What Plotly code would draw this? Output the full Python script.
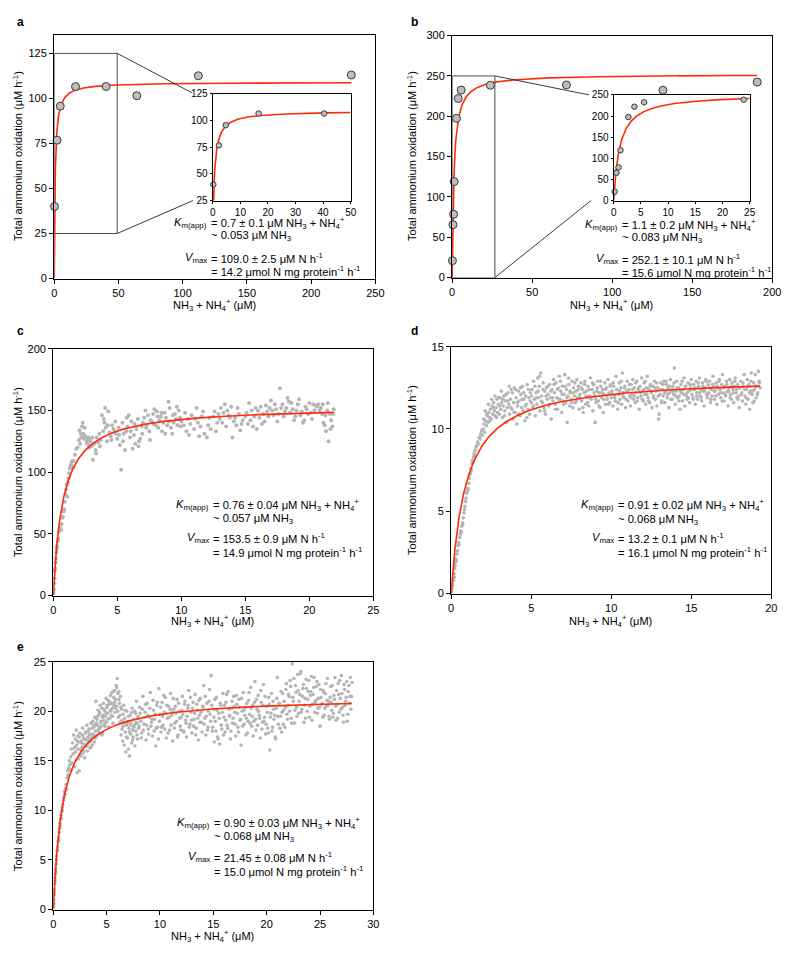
import numpy as np
import plotly.graph_objects as go

W, H = 800, 960
FONT = "Liberation Sans, Arial, Helvetica, sans-serif"

# ---------------- data ----------------
# panel a (discrete assays)
a_x = [0.2, 2.2, 4.7, 16.6, 40.4, 64.3, 112.2, 231.3]
a_y = [40.0, 76.8, 95.7, 106.6, 106.6, 101.5, 112.6, 113.0]
a_vmax, a_km = 109.0, 0.7

# panel b (discrete assays)
b_x = [0.18, 0.5, 0.9, 1.25, 2.7, 3.8, 5.6, 23.9, 71.4, 131.7, 190.6]
b_y = [21.0, 65.5, 78.5, 119.0, 197.5, 222.0, 232.5, 238.5, 238.8, 232.3, 242.4]
b_vmax, b_km = 252.1, 1.1

# panel c (continuous trace)
c_pts = [
    (0.02, 2), (0.05, 5), (0.08, 10), (0.1, 14), (0.12, 20), (0.15, 22), (0.18, 27), (0.2, 30),
    (0.25, 35), (0.28, 38), (0.3, 40), (0.35, 44), (0.4, 46), (0.45, 52), (0.5, 54), (0.55, 55),
    (0.6, 53), (0.65, 58), (0.7, 63), (0.75, 64), (0.8, 68), (0.85, 70), (0.9, 76), (0.95, 82),
    (1.0, 86), (1.05, 90), (1.1, 80), (1.15, 92), (1.2, 95), (1.25, 99), (1.3, 103), (1.35, 105),
    (1.4, 106), (1.45, 108), (1.5, 109), (1.55, 104), (1.6, 109), (1.7, 114), (1.8, 119), (1.9, 120),
    (2.0, 126), (2.05, 134), (2.1, 123), (2.2, 128), (2.25, 137), (2.3, 140), (2.35, 131), (2.4, 127),
    (2.5, 129), (2.6, 124), (2.65, 126), (2.7, 128), (2.8, 120), (2.85, 127), (2.9, 125), (3.0, 121),
    (3.1, 110), (3.2, 123), (3.3, 118), (3.4, 128), (3.5, 124), (3.6, 131), (3.7, 126), (3.8, 146),
    (3.9, 133), (4.0, 140), (4.05, 152), (4.1, 136), (4.2, 125), (4.3, 149), (4.4, 132), (4.5, 129),
    (4.6, 138), (4.7, 135), (4.8, 133), (4.9, 131), (5.0, 127), (5.1, 136), (5.2, 122), (5.3, 102),
    (5.4, 140), (5.5, 131), (5.6, 118), (5.7, 133), (5.8, 137), (5.9, 146), (6.0, 128), (6.1, 141),
    (6.2, 119), (6.3, 130), (6.4, 123), (6.5, 135), (6.6, 143), (6.7, 125), (6.8, 127), (6.9, 137),
    (7.0, 140), (7.1, 144), (7.2, 150), (7.3, 138), (7.4, 146), (7.5, 133), (7.6, 142), (7.7, 141),
    (7.8, 147), (7.9, 151), (8.0, 138), (8.1, 149), (8.2, 136), (8.3, 142), (8.4, 145), (8.5, 133),
    (8.6, 140), (8.7, 148), (8.8, 144), (8.9, 138), (9.0, 157), (9.1, 152), (9.2, 136), (9.3, 131),
    (9.4, 140), (9.5, 147), (9.6, 143), (9.7, 138), (9.8, 150), (9.9, 144), (10.0, 141), (10.2, 138),
    (10.4, 133), (10.5, 143), (10.6, 130), (10.8, 146), (11.0, 135), (11.2, 152), (11.3, 140), (11.5, 137),
    (11.6, 145), (11.8, 131), (12.0, 128), (12.1, 138), (12.3, 135), (12.5, 145), (12.6, 149), (12.8, 140),
    (13.0, 143), (13.1, 152), (13.3, 148), (13.4, 155), (13.6, 150), (13.8, 144), (14.0, 128), (14.1, 141),
    (14.3, 138), (14.5, 147), (14.6, 134), (14.8, 142), (15.0, 145), (15.2, 139), (15.3, 156), (15.5, 150),
    (15.7, 145), (15.9, 135), (16.0, 150), (16.2, 153), (16.4, 147), (16.5, 141), (16.7, 149), (16.9, 152),
    (17.0, 158), (17.2, 146), (17.4, 151), (17.6, 147), (17.7, 168), (17.9, 155), (18.0, 145), (18.2, 152),
    (18.3, 160), (18.5, 148), (18.6, 156), (18.8, 142), (19.0, 150), (19.2, 159), (19.3, 146), (19.5, 140),
    (19.7, 153), (19.9, 147), (20.0, 156), (20.2, 143), (20.4, 150), (20.5, 154), (20.7, 155), (20.9, 152),
    (21.0, 147), (21.1, 140), (21.2, 138), (21.3, 133), (21.4, 150), (21.5, 125), (21.6, 147), (21.7, 142),
    (21.8, 137), (21.9, 151),
    (2.15, 131), (2.45, 136), (2.75, 122), (3.05, 128), (3.35, 115), (3.65, 121), (3.95, 143), (4.25, 138),
    (4.55, 126), (4.85, 141), (5.15, 130), (5.45, 125), (5.75, 144), (6.05, 133), (6.35, 139), (6.65, 121),
    (6.95, 131), (7.25, 136), (7.55, 126), (7.85, 139), (8.15, 145), (8.45, 148), (8.75, 131), (9.05, 141),
    (9.35, 146), (9.65, 153), (9.95, 137), (10.3, 148), (10.7, 139), (11.1, 143), (11.4, 129), (11.7, 149),
    (12.2, 144), (12.7, 133), (12.9, 147), (13.2, 140), (13.5, 137), (13.7, 146), (13.9, 153), (14.2, 144),
    (14.4, 152), (14.7, 139), (15.1, 148), (15.4, 142), (15.6, 137), (15.8, 152), (16.1, 144), (16.3, 139),
    (16.6, 154), (16.8, 145), (17.1, 150), (17.3, 155), (17.5, 141), (17.8, 152), (18.1, 149), (18.4, 157),
    (18.7, 151), (18.9, 145), (19.1, 155), (19.4, 149), (19.6, 142), (19.8, 151), (20.1, 148), (20.3, 155),
    (20.6, 153), (20.8, 150), (21.05, 155), (21.25, 146), (21.45, 156), (21.65, 135), (21.85, 147),
]
c_vmax, c_km = 153.5, 0.76

# panel d (continuous trace)
d_pts = [
    (0.02, 0.1), (0.05, 0.3), (0.07, 0.6), (0.1, 0.5), (0.12, 0.9), (0.15, 0.8), (0.18, 1.2), (0.2, 1.0),
    (0.22, 1.5), (0.25, 1.7), (0.28, 1.9), (0.3, 2.1), (0.33, 2.0), (0.36, 2.4), (0.4, 2.6), (0.43, 2.9),
    (0.46, 3.1), (0.5, 3.0), (0.53, 3.4), (0.56, 3.6), (0.6, 3.8), (0.63, 3.7), (0.66, 4.1), (0.7, 4.3),
    (0.73, 4.2), (0.76, 4.6), (0.8, 4.9), (0.83, 5.1), (0.86, 5.3), (0.9, 5.6), (0.93, 5.8), (0.96, 6.1),
    (1.0, 6.2), (1.03, 6.4), (1.06, 6.3), (1.1, 6.7), (1.13, 7.0), (1.16, 7.2), (1.2, 7.3), (1.23, 7.6),
    (1.26, 7.5), (1.3, 7.9), (1.33, 8.1), (1.36, 8.0), (1.4, 8.3), (1.43, 8.5), (1.46, 8.4), (1.5, 8.7),
    (1.55, 8.9), (1.6, 9.0), (1.65, 9.2), (1.7, 9.1), (1.75, 9.5), (1.8, 9.4), (1.85, 9.7), (1.9, 9.9),
    (1.95, 9.6), (2.0, 10.0), (2.05, 10.3), (2.1, 9.8), (2.15, 10.5), (2.2, 10.2), (2.25, 10.8), (2.3, 10.4),
    (2.35, 11.0), (2.4, 10.7), (2.45, 11.2), (2.5, 10.6), (2.55, 11.4), (2.6, 10.9), (2.65, 11.6), (2.7, 11.1),
    (2.75, 10.8), (2.8, 11.3), (2.85, 11.8), (2.9, 11.0), (2.95, 11.5), (3.0, 10.9), (3.05, 11.9), (3.1, 11.2),
    (3.15, 11.6), (3.2, 10.7), (3.25, 11.4), (3.3, 12.0), (3.35, 11.1), (3.4, 11.7), (3.45, 10.4), (3.5, 11.3),
    (3.55, 12.2), (3.6, 11.5), (3.65, 10.9), (3.7, 11.8), (3.75, 12.4), (3.8, 11.2), (3.85, 10.6), (3.9, 11.6),
    (3.95, 12.5), (4.0, 11.0), (4.05, 11.9), (4.1, 10.3), (4.15, 11.4), (4.2, 12.3), (4.25, 11.7), (4.3, 10.8),
    (4.35, 12.1), (4.4, 11.3), (4.45, 12.6), (4.5, 11.1), (4.55, 11.8), (4.6, 10.5), (4.65, 12.0), (4.7, 11.5),
    (4.75, 12.7), (4.8, 11.2), (4.85, 11.9), (4.9, 10.9), (4.95, 12.2), (5.0, 11.6),
    (5.05, 12.4), (5.1, 11.3), (5.15, 12.9), (5.2, 11.8), (5.25, 10.8), (5.3, 12.2), (5.35, 11.5), (5.4, 13.1),
    (5.45, 11.9), (5.5, 12.6), (5.55, 11.1), (5.6, 13.4), (5.65, 12.0), (5.7, 11.6), (5.75, 12.8), (5.8, 11.3),
    (5.85, 12.3), (5.9, 10.9), (5.95, 12.5), (6.0, 11.8), (6.05, 12.1), (6.1, 11.4), (6.15, 12.7), (6.2, 11.9),
    (6.25, 10.6), (6.3, 12.4), (6.35, 11.7), (6.4, 13.0), (6.45, 12.2), (6.5, 11.5), (6.55, 12.8), (6.6, 11.9),
    (6.65, 11.2), (6.7, 12.5), (6.75, 13.2), (6.8, 11.8), (6.85, 12.3), (6.9, 11.0), (6.95, 12.6), (7.0, 11.7),
    (7.05, 12.1), (7.1, 13.3), (7.15, 11.6), (7.2, 12.4), (7.25, 10.4), (7.3, 12.0), (7.35, 12.7), (7.4, 11.4),
    (7.45, 12.2), (7.5, 11.8), (7.55, 12.9), (7.6, 11.3), (7.65, 12.5), (7.7, 12.0), (7.75, 11.6), (7.8, 12.3),
    (7.85, 13.0), (7.9, 11.9), (7.95, 12.6), (8.0, 11.2), (8.05, 12.1), (8.1, 12.8), (8.15, 11.7), (8.2, 12.4),
    (8.25, 11.0), (8.3, 12.2), (8.35, 12.9), (8.4, 11.5), (8.45, 12.3), (8.5, 11.9), (8.55, 12.6), (8.6, 11.4),
    (8.65, 12.0), (8.7, 13.1), (8.75, 11.8), (8.8, 12.4), (8.85, 11.1), (8.9, 12.7), (8.95, 12.0), (9.0, 10.4),
    (9.05, 11.6), (9.1, 12.3), (9.15, 12.9), (9.2, 11.7), (9.25, 12.2), (9.3, 11.3), (9.35, 12.6), (9.4, 11.9),
    (9.45, 12.4), (9.5, 11.0), (9.55, 12.1), (9.6, 12.8), (9.65, 11.5), (9.7, 12.5), (9.75, 11.8), (9.8, 13.0),
    (9.85, 12.2), (9.9, 11.6), (9.95, 12.7), (10.0, 11.9), (10.05, 12.3), (10.1, 11.4), (10.15, 12.6), (10.2, 12.0),
    (10.25, 11.7), (10.3, 13.2), (10.35, 12.4), (10.4, 11.2), (10.45, 12.1), (10.5, 12.8), (10.55, 11.8), (10.6, 12.5),
    (10.65, 11.5), (10.7, 13.4), (10.75, 12.2), (10.8, 11.9), (10.85, 12.6), (10.9, 11.3), (10.95, 12.3), (11.0, 12.9),
    (11.05, 11.7), (11.1, 12.4), (11.15, 12.0), (11.2, 11.4), (11.25, 12.7), (11.3, 12.1), (11.35, 13.0), (11.4, 11.8),
    (11.45, 12.5), (11.5, 11.6), (11.55, 12.2), (11.6, 12.9), (11.65, 11.9), (11.7, 12.4), (11.75, 11.2), (11.8, 12.6),
    (11.85, 12.0), (11.9, 13.1), (11.95, 12.3), (12.0, 11.7), (12.05, 12.8), (12.1, 12.1), (12.15, 11.5), (12.2, 12.5),
    (12.25, 13.2), (12.3, 11.9), (12.35, 12.4), (12.4, 11.6), (12.45, 12.7), (12.5, 12.2), (12.55, 11.3), (12.6, 12.6),
    (12.65, 12.0), (12.7, 12.9), (12.75, 11.8), (12.8, 12.3), (12.85, 11.4), (12.9, 12.5), (12.95, 10.6), (13.0, 10.9),
    (13.05, 12.1), (13.1, 12.8), (13.15, 11.7), (13.2, 12.4), (13.25, 12.0), (13.3, 12.9), (13.35, 11.6), (13.4, 12.3),
    (13.45, 12.7), (13.5, 11.9), (13.55, 12.5), (13.6, 11.3), (13.65, 12.2), (13.7, 13.0), (13.75, 12.4), (13.8, 11.8),
    (13.85, 12.6), (13.9, 12.1), (13.95, 13.7), (14.0, 11.5), (14.05, 12.3), (14.1, 12.9), (14.15, 11.9), (14.2, 12.5),
    (14.25, 12.0), (14.3, 11.2), (14.35, 12.7), (14.4, 12.2), (14.45, 11.7), (14.5, 12.4), (14.55, 13.1), (14.6, 11.4),
    (14.65, 12.6), (14.7, 12.0), (14.75, 11.8), (14.8, 12.8), (14.85, 12.3), (14.9, 11.6), (14.95, 12.5), (15.0, 13.0),
    (15.05, 12.1), (15.1, 11.9), (15.15, 12.7), (15.2, 12.4), (15.25, 11.5), (15.3, 12.9), (15.35, 12.2), (15.4, 11.8),
    (15.45, 12.6), (15.5, 13.1), (15.55, 12.0), (15.6, 12.4), (15.65, 11.7), (15.7, 12.8), (15.75, 12.3), (15.8, 11.4),
    (15.85, 12.5), (15.9, 13.0), (15.95, 12.1), (16.0, 11.9), (16.05, 12.7), (16.1, 12.2), (16.15, 12.9), (16.2, 11.6),
    (16.25, 12.4), (16.3, 12.0), (16.35, 13.2), (16.4, 12.6), (16.45, 11.8), (16.5, 12.3), (16.55, 12.8), (16.6, 11.5),
    (16.65, 12.5), (16.7, 12.1), (16.75, 13.0), (16.8, 12.4), (16.85, 11.9), (16.9, 12.7), (16.95, 13.3), (17.0, 12.2),
    (17.05, 11.7), (17.1, 12.6), (17.15, 12.0), (17.2, 12.9), (17.25, 12.3), (17.3, 11.4), (17.35, 12.5), (17.4, 13.0),
    (17.45, 12.1), (17.5, 11.8), (17.55, 12.8), (17.6, 12.4), (17.65, 11.6), (17.7, 12.6), (17.75, 13.1), (17.8, 12.2),
    (17.85, 11.9), (17.9, 12.7), (17.95, 12.0), (18.0, 11.3), (18.05, 12.5), (18.1, 12.9), (18.15, 12.2), (18.2, 11.7),
    (18.25, 12.6), (18.3, 13.3), (18.35, 12.0), (18.4, 11.5), (18.45, 12.4), (18.5, 13.0), (18.55, 11.8), (18.6, 12.7),
    (18.65, 11.2), (18.7, 12.3), (18.75, 13.4), (18.8, 12.1), (18.85, 11.6), (18.9, 12.8), (18.95, 12.4), (19.0, 13.3),
    (19.05, 11.9), (19.1, 12.6), (19.15, 12.2), (19.2, 13.5), (19.25, 12.8), (19.3, 12.5),
    (2.03, 10.6), (2.13, 11.1), (2.23, 10.9), (2.33, 11.5), (2.43, 10.5), (2.53, 11.8), (2.63, 11.3), (2.73, 12.0),
    (2.83, 10.7), (2.93, 11.9), (3.03, 11.4), (3.13, 12.3), (3.23, 11.8), (3.33, 10.8), (3.43, 12.1), (3.53, 11.7),
    (3.63, 12.6), (3.73, 11.3), (3.83, 12.2), (3.93, 11.0), (4.03, 12.4), (4.13, 11.6), (4.23, 10.9), (4.33, 12.5),
    (4.43, 11.8), (4.53, 12.2), (4.63, 11.4), (4.73, 10.7), (4.83, 12.4), (4.93, 11.7), (5.03, 12.0), (5.13, 11.4),
    (5.23, 12.6), (5.33, 11.9), (5.43, 12.3), (5.53, 13.2), (5.63, 11.7), (5.73, 12.4), (5.83, 11.1), (5.93, 12.0),
    (6.03, 12.6), (6.13, 11.5), (6.23, 12.3), (6.33, 11.9), (6.43, 12.7), (6.53, 11.2), (6.63, 12.4), (6.73, 11.8),
    (6.83, 12.9), (6.93, 12.1), (7.03, 11.5), (7.13, 12.6), (7.23, 11.9), (7.33, 13.1), (7.43, 12.3), (7.53, 11.6),
    (7.63, 12.2), (7.73, 12.8), (7.83, 11.7), (7.93, 12.4), (8.03, 11.9), (8.13, 12.5), (8.23, 11.3), (8.33, 12.7),
    (8.43, 12.0), (8.53, 11.6), (8.63, 12.4), (8.73, 11.9), (8.83, 12.8), (8.93, 12.2), (9.03, 11.8), (9.13, 12.5),
    (9.23, 11.4), (9.33, 12.9), (9.43, 12.2), (9.53, 11.8), (9.63, 12.4), (9.73, 12.0), (9.83, 11.5), (9.93, 12.6),
    (10.03, 12.2), (10.13, 12.8), (10.23, 11.9), (10.33, 12.4), (10.43, 11.6), (10.53, 12.3), (10.63, 12.9), (10.73, 12.0),
    (10.83, 12.5), (10.93, 11.8), (11.03, 12.3), (11.13, 12.7), (11.23, 11.9), (11.33, 12.4), (11.43, 12.0), (11.53, 12.8),
    (11.63, 11.7), (11.73, 12.5), (11.83, 12.2), (11.93, 11.8), (12.03, 12.4), (12.13, 12.9), (12.23, 12.1), (12.33, 11.7),
    (12.43, 12.6), (12.53, 12.3), (12.63, 11.9), (12.73, 12.5), (12.83, 12.8), (12.93, 12.0), (13.03, 12.4), (13.13, 11.6),
    (13.23, 12.7), (13.33, 12.2), (13.43, 12.9), (13.53, 12.1), (13.63, 12.6), (13.73, 11.8), (13.83, 12.3), (13.93, 12.8),
    (14.03, 12.0), (14.13, 12.5), (14.23, 11.7), (14.33, 12.3), (14.43, 12.9), (14.53, 12.1), (14.63, 12.6), (14.73, 12.2),
    (14.83, 11.9), (14.93, 12.7), (15.03, 12.4), (15.13, 11.8), (15.23, 12.5), (15.33, 12.0), (15.43, 12.8), (15.53, 12.2),
    (15.63, 11.9), (15.73, 12.6), (15.83, 12.3), (15.93, 12.9), (16.03, 12.1), (16.13, 12.5), (16.23, 11.8), (16.33, 12.7),
    (16.43, 12.3), (16.53, 12.0), (16.63, 12.6), (16.73, 12.9), (16.83, 12.2), (16.93, 11.7), (17.03, 12.5), (17.13, 12.1),
    (17.23, 12.7), (17.33, 12.3), (17.43, 11.9), (17.53, 12.6), (17.63, 12.2), (17.73, 12.9), (17.83, 12.4), (17.93, 11.8),
    (18.03, 12.5), (18.13, 12.1), (18.23, 12.8), (18.33, 12.4), (18.43, 11.9), (18.53, 12.6), (18.63, 12.2), (18.73, 12.9),
    (18.83, 12.3), (18.93, 11.7), (19.03, 12.6), (19.13, 12.1), (19.23, 12.9),
]
d_vmax, d_km = 13.2, 0.91

# panel e (continuous trace)
e_pts = [
    (0.02, 0.3), (0.04, 1.0), (0.06, 0.6), (0.08, 1.5), (0.1, 2.0), (0.12, 1.7), (0.14, 2.6), (0.16, 3.2),
    (0.18, 2.9), (0.2, 3.6), (0.22, 4.1), (0.25, 3.8), (0.28, 4.6), (0.3, 5.0), (0.33, 5.4), (0.36, 5.9),
    (0.4, 6.3), (0.43, 6.0), (0.46, 6.9), (0.5, 7.3), (0.53, 7.0), (0.56, 7.8), (0.6, 8.2), (0.63, 8.7),
    (0.66, 8.4), (0.7, 9.1), (0.73, 9.5), (0.76, 9.2), (0.8, 9.9), (0.83, 10.3), (0.86, 10.0), (0.9, 10.6),
    (0.95, 11.0), (1.0, 11.3), (1.05, 11.9), (1.1, 11.6), (1.15, 12.2), (1.2, 12.6), (1.25, 12.1), (1.3, 13.3),
    (1.35, 14.0), (1.4, 13.6), (1.45, 14.3), (1.5, 15.0), (1.55, 14.6), (1.6, 14.1), (1.65, 15.4), (1.7, 16.2),
    (1.75, 14.8), (1.8, 16.8), (1.85, 15.7), (1.9, 17.6), (1.95, 16.3), (2.0, 14.4), (2.05, 17.2), (2.1, 15.9),
    (2.15, 18.1), (2.2, 16.6), (2.25, 13.8), (2.3, 17.5), (2.35, 15.2), (2.4, 16.9), (2.45, 14.0), (2.5, 17.8),
    (2.55, 16.1), (2.6, 15.5), (2.65, 17.0), (2.7, 16.4), (2.75, 18.3), (2.8, 15.8), (2.85, 17.3), (2.9, 16.7),
    (2.95, 15.3), (3.0, 17.9), (3.05, 16.5), (3.1, 17.1), (3.15, 18.6), (3.2, 16.0), (3.25, 17.4), (3.3, 16.8),
    (3.35, 18.2), (3.4, 17.6), (3.45, 16.3), (3.5, 17.0), (3.55, 18.8), (3.6, 17.3), (3.65, 16.6), (3.7, 19.0),
    (3.75, 17.7), (3.8, 18.4), (3.85, 16.9), (3.9, 19.4), (3.95, 18.0), (4.0, 21.0), (4.05, 17.5), (4.1, 19.2),
    (4.15, 18.6), (4.2, 20.1), (4.25, 17.9), (4.3, 19.7), (4.35, 18.3), (4.4, 20.6), (4.45, 19.0), (4.5, 18.5),
    (4.55, 20.3), (4.6, 19.4), (4.65, 17.8), (4.7, 20.8), (4.75, 19.1), (4.8, 18.7), (4.85, 20.0), (4.9, 19.5),
    (4.95, 21.3), (5.0, 18.9), (5.05, 20.4), (5.1, 19.8), (5.15, 21.1), (5.2, 18.4), (5.25, 20.7), (5.3, 19.3),
    (5.35, 21.6), (5.4, 20.0), (5.45, 19.6), (5.5, 21.9), (5.55, 20.3), (5.6, 18.8), (5.65, 21.4), (5.7, 20.6),
    (5.75, 22.1), (5.8, 19.9), (5.85, 21.2), (5.9, 22.6), (5.95, 20.5), (6.0, 23.3), (6.05, 21.8), (6.1, 19.4),
    (6.15, 22.0), (6.2, 20.8), (6.25, 18.9), (6.3, 21.5), (6.35, 17.6), (6.4, 20.2), (6.45, 19.1), (6.5, 17.0),
    (6.55, 18.5), (6.6, 20.6), (6.65, 16.6), (6.7, 19.3), (6.75, 17.9), (6.8, 15.9), (6.85, 18.6), (6.9, 20.0),
    (6.95, 17.3), (7.0, 19.0), (7.05, 16.2), (7.1, 18.3), (7.15, 15.5), (7.2, 19.6), (7.25, 17.7), (7.3, 18.9),
    (7.35, 16.8), (7.4, 20.3), (7.45, 18.1), (7.5, 17.4), (7.55, 19.2), (7.6, 18.6), (7.65, 16.5), (7.7, 19.8),
    (7.75, 18.0), (7.8, 21.0), (7.85, 18.8), (7.9, 17.2), (7.95, 19.5), (8.0, 18.3), (8.1, 20.4), (8.2, 19.0),
    (8.3, 17.8), (8.4, 21.5), (8.5, 18.7), (8.6, 19.9), (8.7, 17.1), (8.8, 20.8), (8.9, 18.2), (9.0, 19.4),
    (9.1, 21.9), (9.2, 18.9), (9.3, 17.5), (9.4, 20.1), (9.5, 19.2), (9.6, 16.5), (9.7, 20.6), (9.8, 18.4),
    (9.9, 22.3), (10.0, 19.7), (10.1, 17.9), (10.2, 20.9), (10.3, 18.6), (10.4, 19.9), (10.5, 21.4), (10.6, 17.3),
    (10.7, 19.3), (10.8, 20.5), (10.9, 18.1), (11.0, 21.8), (11.1, 19.6), (11.2, 17.0), (11.3, 20.2), (11.4, 18.8),
    (11.5, 19.8), (11.6, 21.2), (11.7, 17.6), (11.8, 20.0), (11.9, 18.5), (12.0, 19.4), (12.1, 21.5), (12.2, 18.0),
    (12.3, 20.7), (12.4, 19.1), (12.5, 17.4), (12.6, 20.3), (12.7, 22.1), (12.8, 18.7), (12.9, 19.9), (13.0, 17.8),
    (13.1, 20.9), (13.2, 19.2), (13.3, 21.7), (13.4, 18.3), (13.5, 20.1), (13.6, 17.1), (13.7, 19.6), (13.8, 21.3),
    (13.9, 18.9), (14.0, 20.5), (14.1, 22.6), (14.2, 19.3), (14.3, 17.6), (14.4, 20.8), (14.5, 18.4), (14.6, 21.0),
    (14.7, 19.7), (14.8, 23.6), (14.9, 18.0), (15.0, 20.2), (15.1, 16.9), (15.2, 19.0), (15.3, 21.4), (15.4, 17.4),
    (15.5, 19.8), (15.6, 16.7), (15.7, 20.6), (15.8, 18.2), (15.9, 21.8), (16.0, 19.4), (16.1, 17.9), (16.2, 20.9),
    (16.3, 18.6), (16.4, 22.0), (16.5, 19.5), (16.6, 17.2), (16.7, 20.3), (16.8, 18.8), (16.9, 21.5), (17.0, 19.9),
    (17.1, 17.5), (17.2, 20.7), (17.3, 18.4), (17.4, 21.2), (17.5, 19.1), (17.6, 16.6), (17.7, 20.0), (17.8, 21.9),
    (17.9, 18.7), (18.0, 20.4), (18.1, 19.3), (18.2, 17.8), (18.3, 21.1), (18.4, 19.7), (18.5, 22.4), (18.6, 18.5),
    (18.7, 20.6), (18.8, 19.0), (18.9, 23.0), (19.0, 18.1), (19.1, 20.2), (19.2, 21.6), (19.3, 19.6), (19.4, 17.3),
    (19.5, 20.9), (19.6, 18.9), (19.7, 22.7), (19.8, 19.4), (19.9, 17.7), (20.0, 20.5), (20.1, 18.3), (20.2, 21.4),
    (20.3, 16.1), (20.4, 19.8), (20.5, 18.0), (20.6, 21.0), (20.7, 19.2), (20.8, 17.4), (20.9, 20.3), (21.0, 23.4),
    (21.1, 18.7), (21.2, 20.8), (21.3, 19.5), (21.4, 17.9), (21.5, 21.8), (21.6, 20.1), (21.7, 18.4), (21.8, 22.2),
    (21.9, 19.7), (22.0, 20.6), (22.1, 21.5), (22.2, 23.1), (22.3, 19.3), (22.4, 24.8), (22.5, 21.0), (22.6, 18.8),
    (22.7, 22.6), (22.8, 20.4), (22.9, 23.7), (23.0, 19.8), (23.1, 21.7), (23.2, 24.0), (23.3, 20.2), (23.4, 22.3),
    (23.5, 18.9), (23.6, 21.3), (23.7, 23.2), (23.8, 20.0), (23.9, 22.0), (24.0, 19.4), (24.1, 21.6), (24.2, 23.5),
    (24.3, 20.7), (24.4, 22.4), (24.5, 19.9), (24.6, 21.1), (24.7, 23.0), (24.8, 20.3), (24.9, 22.7), (25.0, 18.5),
    (25.1, 21.4), (25.2, 20.8), (25.3, 22.1), (25.4, 19.6), (25.5, 21.8), (25.6, 20.5), (25.7, 23.3), (25.8, 21.0),
    (25.9, 19.2), (26.0, 22.5), (26.1, 20.1), (26.2, 19.4), (26.3, 21.6), (26.4, 23.4), (26.5, 19.1), (26.6, 20.7),
    (26.7, 22.8), (26.8, 19.9), (26.9, 21.3), (27.0, 23.6), (27.1, 20.4), (27.2, 18.9), (27.3, 22.2), (27.4, 21.0),
    (27.5, 23.0), (27.6, 19.7), (27.7, 22.6), (27.8, 21.5), (27.9, 20.2), (28.0, 22.9),
    (2.05, 16.4), (2.15, 15.1), (2.25, 17.0), (2.35, 16.2), (2.45, 17.4), (2.55, 15.6), (2.65, 16.8), (2.75, 17.6),
    (2.85, 16.0), (2.95, 17.2), (3.05, 17.8), (3.15, 16.5), (3.25, 18.0), (3.35, 17.1), (3.45, 17.7), (3.55, 16.4),
    (3.65, 18.3), (3.75, 17.5), (3.85, 18.6), (3.95, 17.3), (4.05, 18.8), (4.15, 19.5), (4.25, 18.2), (4.35, 19.9),
    (4.45, 18.9), (4.55, 17.6), (4.65, 19.6), (4.75, 20.2), (4.85, 18.5), (4.95, 19.8), (5.05, 20.6), (5.15, 19.2),
    (5.25, 21.0), (5.35, 20.1), (5.45, 20.8), (5.55, 19.5), (5.65, 22.0), (5.75, 20.9), (5.85, 20.3), (5.95, 22.4),
    (6.05, 20.0), (6.15, 21.2), (6.25, 19.6), (6.35, 20.4), (6.45, 18.2), (6.55, 19.7), (6.65, 18.9), (6.75, 20.1),
    (6.85, 17.4), (6.95, 18.8), (7.05, 19.5), (7.15, 17.9), (7.25, 18.6), (7.35, 19.9), (7.45, 17.1), (7.55, 18.4),
    (7.65, 20.0), (7.75, 18.9), (7.85, 17.6), (7.95, 19.3), (8.05, 18.5), (8.15, 19.8), (8.25, 17.3), (8.35, 20.2),
    (8.45, 18.1), (8.55, 19.4), (8.65, 20.7), (8.75, 18.6), (8.85, 19.6), (8.95, 17.7), (9.05, 20.3), (9.15, 18.5),
    (9.25, 19.2), (9.35, 21.1), (9.45, 18.0), (9.55, 19.7), (9.65, 18.3), (9.75, 20.9), (9.85, 17.2), (9.95, 19.0),
    (10.05, 20.4), (10.15, 18.4), (10.25, 19.5), (10.35, 21.6), (10.45, 18.2), (10.55, 19.8), (10.65, 20.6), (10.75, 17.8),
    (10.85, 19.4), (10.95, 20.2), (11.05, 18.6), (11.15, 19.9), (11.25, 21.3), (11.35, 18.3), (11.45, 20.5), (11.55, 19.0),
    (11.65, 17.4), (11.75, 20.8), (11.85, 19.3), (11.95, 18.1), (12.05, 20.1), (12.15, 19.7), (12.25, 17.9), (12.35, 21.0),
    (12.45, 18.8), (12.55, 19.5), (12.65, 20.6), (12.75, 18.4), (12.85, 21.4), (12.95, 19.1), (13.05, 20.3), (13.15, 18.5),
    (13.25, 19.8), (13.35, 17.6), (13.45, 20.7), (13.55, 19.3), (13.65, 21.1), (13.75, 18.9), (13.85, 19.9), (13.95, 17.9),
    (14.05, 20.4), (14.15, 18.7), (14.25, 21.5), (14.35, 19.5), (14.45, 18.1), (14.55, 20.0), (14.65, 22.2), (14.75, 19.0),
    (14.85, 20.6), (14.95, 18.4), (15.05, 19.4), (15.15, 21.2), (15.25, 18.0), (15.35, 20.1), (15.45, 17.2), (15.55, 19.3),
    (15.65, 20.8), (15.75, 18.6), (15.85, 19.9), (15.95, 17.6), (16.05, 20.6), (16.15, 19.1), (16.25, 21.7), (16.35, 18.3),
    (16.45, 20.2), (16.55, 19.6), (16.65, 18.0), (16.75, 21.0), (16.85, 19.3), (16.95, 20.5), (17.05, 18.7), (17.15, 21.6),
    (17.25, 19.8), (17.35, 17.9), (17.45, 20.4), (17.55, 19.2), (17.65, 21.3), (17.75, 18.5), (17.85, 20.1), (17.95, 19.6),
    (18.05, 17.6), (18.15, 20.8), (18.25, 19.0), (18.35, 21.9), (18.45, 18.8), (18.55, 20.3), (18.65, 19.5), (18.75, 17.5),
    (18.85, 20.9), (18.95, 19.2), (19.05, 21.2), (19.15, 18.6), (19.25, 20.0), (19.35, 19.3), (19.45, 22.1), (19.55, 18.2),
    (19.65, 20.6), (19.75, 19.0), (19.85, 21.5), (19.95, 18.7), (20.05, 19.9), (20.15, 17.8), (20.25, 20.7), (20.35, 19.4),
    (20.45, 21.8), (20.55, 18.4), (20.65, 20.2), (20.75, 19.6), (20.85, 17.2), (20.95, 21.3), (21.05, 19.5), (21.15, 20.8),
    (21.25, 18.3), (21.35, 22.0), (21.45, 19.9), (21.55, 18.7), (21.65, 21.0), (21.75, 20.4), (21.85, 22.8), (21.95, 19.2),
    (22.05, 21.7), (22.15, 20.0), (22.25, 22.5), (22.35, 18.8), (22.45, 21.4), (22.55, 23.3), (22.65, 20.1), (22.75, 21.9),
    (22.85, 19.5), (22.95, 22.1), (23.05, 21.0), (23.15, 23.8), (23.25, 19.9), (23.35, 21.5), (23.45, 22.7), (23.55, 20.6),
    (23.65, 19.3), (23.75, 22.3), (23.85, 21.2), (23.95, 23.1), (24.05, 20.5), (24.15, 22.0), (24.25, 19.1), (24.35, 21.7),
    (24.45, 23.4), (24.55, 20.9), (24.65, 22.5), (24.75, 19.8), (24.85, 21.3), (24.95, 20.4), (25.05, 22.2), (25.15, 20.7),
    (25.25, 19.4), (25.35, 21.9), (25.45, 20.3), (25.55, 22.8), (25.65, 21.1), (25.75, 20.6), (25.85, 19.5), (25.95, 21.4),
    (26.05, 20.9), (26.15, 22.6), (26.25, 19.8), (26.35, 21.2), (26.45, 20.5), (26.55, 22.1), (26.65, 19.3), (26.75, 21.7),
    (26.85, 23.1), (26.95, 20.2), (27.05, 21.8), (27.15, 19.6), (27.25, 22.7), (27.35, 20.6), (27.45, 21.4), (27.55, 19.0),
    (27.65, 22.0), (27.75, 20.8), (27.85, 23.4), (27.95, 21.5),
]
e_vmax, e_km = 21.45, 0.90

# annotation texts
texts = {
    "a": ["0.7 ± 0.1", "0.053", "109.0 ± 2.5", "14.2"],
    "b": ["1.1 ± 0.2", "0.083", "252.1 ± 10.1", "15.6"],
    "c": ["0.76 ± 0.04", "0.057", "153.5 ± 0.9", "14.9"],
    "d": ["0.91 ± 0.02", "0.068", "13.2 ± 0.1", "16.1"],
    "e": ["0.90 ± 0.03", "0.068", "21.45 ± 0.08", "15.0"],
}

# ---------------- layout helpers (pixel boxes) ----------------
def xd(px0, px1):
    return [px0 / W, px1 / W]

def yd(py_top, py_bot):
    return [1 - py_bot / H, 1 - py_top / H]

RED = "#ff2a0a"
GREY = "#b5b5b5"
AXCOL = "black"

def mm(vmax, km, xmax, n=600):
    xs = np.concatenate([np.linspace(0, 2, 200), np.linspace(2, xmax, n)[1:]])
    return xs, vmax * xs / (km + xs)

fig = go.Figure()

def axis(domain, rng, dtick, size=11, anchor=None, ticklen=4):
    return dict(domain=domain, range=rng, dtick=dtick, tick0=0, anchor=anchor,
                showline=True, linecolor=AXCOL, linewidth=1.3, mirror=True,
                ticks="outside", ticklen=ticklen, tickwidth=1, tickcolor=AXCOL,
                showgrid=False, zeroline=False,
                tickfont=dict(family=FONT, size=size, color="black"))

panels = {
    "a": ("x", "y", (52, 378), (29, 276), [0, 250], [0, 135.4], 50, 25),
    "ai": ("x2", "y2", (213, 353), (89, 197), [0, 50], [25, 125], 10, 25),
    "b": ("x3", "y3", (456, 781), (30, 275), [0, 200], [0, 300], 50, 50),
    "bi": ("x4", "y4", (620, 758), (90, 197), [0, 25], [0, 250], 5, 50),
    "c": ("x5", "y5", (51, 376), (347, 597), [0, 25], [0, 200], 5, 50),
    "d": ("x6", "y6", (455, 780), (345, 595), [0, 20], [0, 15], 5, 5),
    "e": ("x7", "y7", (51, 376), (664, 915), [0, 30], [0, 25], 5, 5),
}

layout_axes = {}
for name, (xa, ya, xpx, ypx, xr, yr, xdt, ydt) in panels.items():
    inset = name.endswith("i")
    size = 10 if inset else 11
    tl = 2 if inset else 4
    xkey = "xaxis" + xa[1:]
    ykey = "yaxis" + ya[1:]
    layout_axes[xkey] = axis(xd(*xpx), xr, xdt, size, anchor=ya, ticklen=tl)
    layout_axes[ykey] = axis(yd(*ypx), yr, ydt, size, anchor=xa, ticklen=tl)

def add_points(xs, ys, xa, ya, size):
    fig.add_trace(go.Scatter(x=xs, y=ys, xaxis=xa, yaxis=ya, mode="markers", cliponaxis=False,
                             marker=dict(size=size, color="#bdbdbd", line=dict(color="#3a3a3a", width=1)),
                             showlegend=False, hoverinfo="skip"))

def add_cloud(pts, xa, ya, size):
    fig.add_trace(go.Scatter(x=[p[0] for p in pts], y=[p[1] for p in pts], xaxis=xa, yaxis=ya,
                             mode="markers", cliponaxis=False,
                             marker=dict(size=size, color=GREY, line=dict(width=0)),
                             showlegend=False, hoverinfo="skip"))

def add_curve(vmax, km, xmax, xa, ya):
    xs, ys = mm(vmax, km, xmax)
    fig.add_trace(go.Scatter(x=xs, y=ys, xaxis=xa, yaxis=ya, mode="lines",
                             line=dict(color=RED, width=1.6), showlegend=False, hoverinfo="skip"))

# panel a
add_curve(a_vmax, a_km, max(a_x), "x", "y")
add_points(a_x, a_y, "x", "y", 8)
add_curve(a_vmax, a_km, 50, "x2", "y2")
add_points([v for v in a_x if v <= 50], [a_y[i] for i, v in enumerate(a_x) if v <= 50], "x2", "y2", 5.5)
# panel b
add_curve(b_vmax, b_km, max(b_x), "x3", "y3")
add_points(b_x, b_y, "x3", "y3", 8)
add_curve(b_vmax, b_km, 25, "x4", "y4")
add_points([v for v in b_x if v <= 25], [b_y[i] for i, v in enumerate(b_x) if v <= 25], "x4", "y4", 5.5)
# panels c, d, e
add_cloud(c_pts, "x5", "y5", 4)
add_curve(c_vmax, c_km, max(p[0] for p in c_pts), "x5", "y5")
add_cloud(d_pts, "x6", "y6", 3.6)
add_curve(d_vmax, d_km, max(p[0] for p in d_pts), "x6", "y6")
add_cloud(e_pts, "x7", "y7", 3.6)
add_curve(e_vmax, e_km, max(p[0] for p in e_pts), "x7", "y7")

# ---------------- zoom boxes and connectors ----------------
def data_to_paper(name, xv, yv):
    _, _, xpx, ypx, xr, yr, _, _ = panels[name]
    px = xpx[0] + (xv - xr[0]) / (xr[1] - xr[0]) * (xpx[1] - xpx[0])
    py = ypx[1] - (yv - yr[0]) / (yr[1] - yr[0]) * (ypx[1] - ypx[0])
    return px / W, 1 - py / H

shapes = []
BOX = "#4d4d4d"
shapes.append(dict(type="rect", xref="x", yref="y", x0=0, x1=49, y0=25, y1=125,
                   line=dict(color=BOX, width=1), layer="below"))
p1 = data_to_paper("a", 49, 125)
p2 = data_to_paper("a", 49, 25)
shapes.append(dict(type="line", xref="paper", yref="paper", x0=p1[0], y0=p1[1],
                   x1=192 / W, y1=1 - 88 / H, line=dict(color="#222", width=0.9)))
shapes.append(dict(type="line", xref="paper", yref="paper", x0=p2[0], y0=p2[1],
                   x1=193 / W, y1=1 - 197 / H, line=dict(color="#222", width=0.9)))
shapes.append(dict(type="rect", xref="x3", yref="y3", x0=0, x1=26.7, y0=0, y1=250,
                   line=dict(color=BOX, width=1), layer="below"))
p1 = data_to_paper("b", 26.7, 250)
p2 = data_to_paper("b", 26.7, 0)
shapes.append(dict(type="line", xref="paper", yref="paper", x0=p1[0], y0=p1[1],
                   x1=595 / W, y1=1 - 90 / H, line=dict(color="#222", width=0.9)))
shapes.append(dict(type="line", xref="paper", yref="paper", x0=p2[0], y0=p2[1],
                   x1=597 / W, y1=1 - 197 / H, line=dict(color="#222", width=0.9)))

# ---------------- annotations ----------------
ann = []
def txt(text, px, py, xanchor="center", yanchor="middle", size=11, angle=0):
    ann.append(dict(text=text, x=px / W, y=1 - py / H, xref="paper", yref="paper",
                    xanchor=xanchor, yanchor=yanchor, showarrow=False, textangle=angle,
                    font=dict(family=FONT, size=size, color="black"), borderpad=0))

YT = "Total ammonium oxidation (μM h<sup>-1</sup>)"
XT = "NH<sub>3</sub> + NH<sub>4</sub><sup>+</sup> (μM)"

label_pos = {"a": (18, 16), "b": (418, 16), "c": (18, 329), "d": (418, 329), "e": (18, 649)}
for k, (lx, ly) in label_pos.items():
    txt("<b>%s</b>" % k, lx, ly, size=12)

ytitle = {"a": (15, 152), "b": (415, 152), "c": (15, 472), "d": (415, 470), "e": (15, 790)}
xtitle = {"a": (215, 303), "b": (618, 303), "c": (213, 623), "d": (617, 623), "e": (213, 942)}
for k in "abcde":
    txt(YT, *ytitle[k], angle=-90)
    txt(XT, *xtitle[k])

EQS = 11.2
eq_pos = {
    "a": (210, [220, 233, 255, 268]),
    "b": (627, [222, 235, 256, 269]),
    "c": (212, [505, 519, 539, 553]),
    "d": (623, [505, 520, 539, 553]),
    "e": (213, [827, 842, 862, 876]),
}
for k, (ex, ys) in eq_pos.items():
    t = texts[k]
    txt("<i>K</i><sub>m(app)</sub>", ex - 2, ys[0], xanchor="right", size=EQS)
    txt("= %s μM NH<sub>3</sub> + NH<sub>4</sub><sup>+</sup>" % t[0], ex, ys[0], xanchor="left", size=EQS)
    txt("~ %s μM NH<sub>3</sub>" % t[1], ex, ys[1], xanchor="left", size=EQS)
    txt("<i>V</i><sub>max</sub>", ex - 2, ys[2], xanchor="right", size=EQS)
    txt("= %s μM N h<sup>-1</sup>" % t[2], ex, ys[2], xanchor="left", size=EQS)
    txt("= %s μmol N mg protein<sup>-1</sup> h<sup>-1</sup>" % t[3], ex, ys[3], xanchor="left", size=EQS)

fig.update_layout(width=W, height=H, autosize=False,
                  margin=dict(l=0, r=0, t=0, b=0),
                  paper_bgcolor="white", plot_bgcolor="white",
                  shapes=shapes, annotations=ann, showlegend=False,
                  font=dict(family=FONT, size=11, color="black"),
                  **layout_axes)

fig.write_html("out.html", config={"displayModeBar": False},
               post_script="document.body.style.margin='0px';document.body.style.padding='0px';"
                           "document.documentElement.style.overflow='hidden';")
